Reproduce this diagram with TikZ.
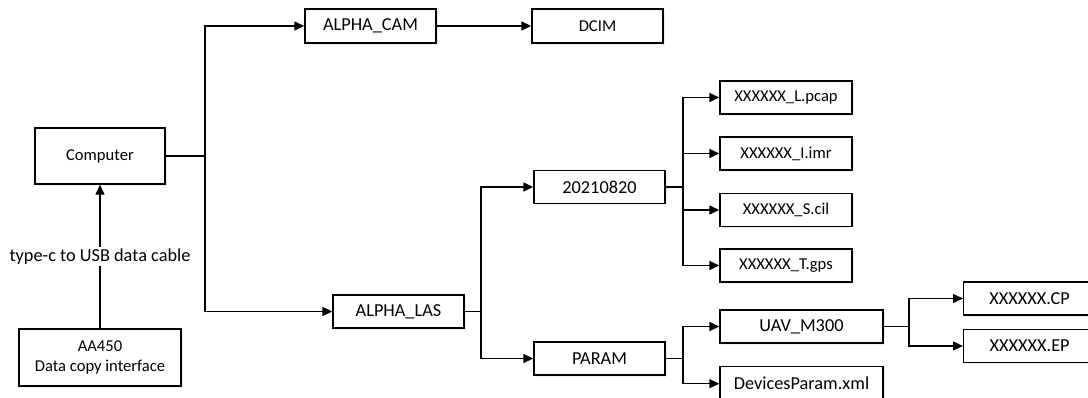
\documentclass[tikz,border=0pt]{standalone}
\usepackage{fontspec}
\setmainfont{Carlito}
\usetikzlibrary{arrows.meta,shadows}
\begin{document}
\begin{tikzpicture}[x=1pt,y=-1pt,
  box/.style={draw, fill=white, line width=1.4pt, minimum height=34pt, inner sep=0pt,
    font=\fontsize{18.3}{20}\selectfont,
    drop shadow={opacity=0.12, shadow xshift=1.5pt, shadow yshift=-1.5pt}},
  smalltext/.style={font=\fontsize{16.6}{19.5}\selectfont},
  conn/.style={line width=1.4pt},
  arr/.style={conn, -{Triangle[length=10pt,width=9pt]}}]
\useasboundingbox (0,0) rectangle (1088,397);
\clip (0,0) rectangle (1088,397);

% nodes
\node[box, smalltext, minimum width=130pt, minimum height=56pt] (computer) at (100,156) {Computer};
\node[box, smalltext, minimum width=162pt, minimum height=57pt, align=center] (aa450) at (100,357.5) {AA450\\Data copy interface};
\node[box, minimum width=131pt] (alphacam) at (370.5,26) {ALPHA\_CAM};
\node[box, smalltext, minimum width=131pt] (dcim) at (597.5,26) {DCIM};
\node[box, minimum width=131pt, minimum height=33pt] (alphalas) at (398.5,311.5) {ALPHA\_LAS};
\node[box, minimum width=131pt, minimum height=33pt] (d2021) at (599.5,187) {20210820};
\node[box, minimum width=131pt, minimum height=33pt] (param) at (599.5,358.5) {PARAM};
\node[box, smalltext, minimum width=132pt, minimum height=33pt] (pcap) at (786,97.5) {XXXXXX\_L.pcap};
\node[box, smalltext, minimum width=132pt, minimum height=33pt] (imr) at (786,153.5) {XXXXXX\_I.imr};
\node[box, smalltext, minimum width=132pt, minimum height=33pt] (cil) at (786,210) {XXXXXX\_S.cil};
\node[box, smalltext, minimum width=132pt, minimum height=33pt] (gps) at (786,265.5) {XXXXXX\_T.gps};
\node[box, minimum width=163pt, minimum height=33pt] (uav) at (801.5,326.5) {UAV\_M300};
\node[box, minimum width=163pt, minimum height=34pt, anchor=north] (devp) at (801.5,366) {DevicesParam.xml};
\node[box, minimum width=132pt, minimum height=33pt, anchor=west] (cp) at (963,298.5) {XXXXXX.CP};
\node[box, minimum width=132pt, minimum height=33pt, anchor=west] (ep) at (963,346) {XXXXXX.EP};

% junctions
\coordinate (j1) at (205,156);
\coordinate (j2) at (481,311.5);
\coordinate (j3) at (683,187);
\coordinate (j4) at (683,358.5);
\coordinate (j5) at (909,326.5);

% connectors
\draw[arr] (aa450.north) -- (computer.south)
  node[midway, fill=white, inner sep=2pt, font=\fontsize{18.3}{20}\selectfont] {type-c to USB data cable};
\draw[conn] (computer.east) -- (j1);
\draw[arr] (j1) |- (alphacam.west);
\draw[arr] (j1) |- (alphalas.west);
\draw[arr] (alphacam.east) -- (dcim.west);

\draw[conn] (alphalas.east) -- (j2);
\draw[arr] (j2) |- (d2021.west);
\draw[arr] (j2) |- (param.west);

\draw[conn] (d2021.east) -- (j3);
\draw[arr] (j3) |- (pcap.west);
\draw[arr] (j3) |- (imr.west);
\draw[arr] (j3) |- (cil.west);
\draw[arr] (j3) |- (gps.west);

\draw[conn] (param.east) -- (j4);
\draw[arr] (j4) |- (uav.west);
\draw[arr] (j4) |- (devp.west);

\draw[conn] (uav.east) -- (j5);
\draw[arr] (j5) |- (cp.west);
\draw[arr] (j5) |- (ep.west);
\end{tikzpicture}
\end{document}
